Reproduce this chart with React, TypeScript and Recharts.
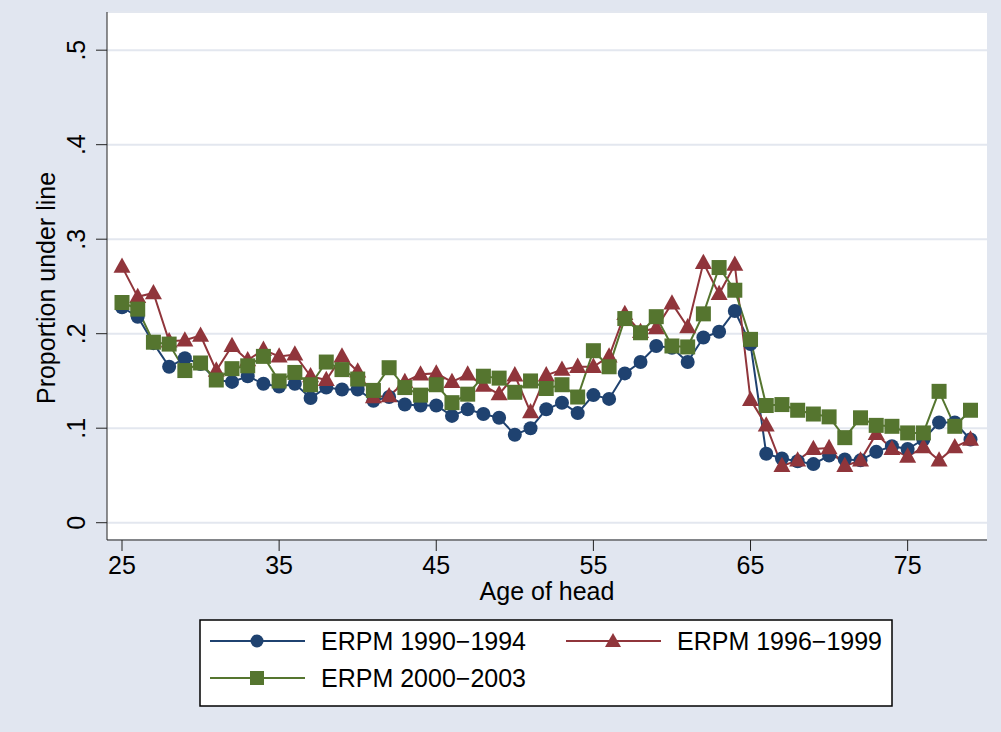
import { LineChart, Line, XAxis, YAxis, CartesianGrid, Legend } from 'recharts'

const ages = [
  25, 26, 27, 28, 29, 30, 31, 32, 33, 34, 35, 36, 37, 38, 39, 40, 41, 42, 43, 44, 45, 46, 47, 48, 49, 50, 51, 52,
  53, 54, 55, 56, 57, 58, 59, 60, 61, 62, 63, 64, 65, 66, 67, 68, 69, 70, 71, 72, 73, 74, 75, 76, 77, 78, 79,
]

const erpm9094 = [
  0.228, 0.218, 0.19, 0.165, 0.174, 0.168, 0.151, 0.149, 0.155, 0.147, 0.144, 0.147, 0.132, 0.143, 0.141, 0.141,
  0.129, 0.133, 0.125, 0.124, 0.124, 0.113, 0.12, 0.115, 0.111, 0.093, 0.1, 0.12, 0.127, 0.116, 0.135, 0.131,
  0.158, 0.17, 0.187, 0.185, 0.17, 0.196, 0.202, 0.224, 0.189, 0.073, 0.068, 0.065, 0.062, 0.071, 0.067, 0.066,
  0.075, 0.081, 0.078, 0.088, 0.106, 0.106, 0.088,
]

const erpm9699 = [
  0.271, 0.239, 0.243, 0.192, 0.193, 0.198, 0.161, 0.187, 0.172, 0.183, 0.176, 0.178, 0.155, 0.151, 0.176, 0.16,
  0.133, 0.134, 0.149, 0.157, 0.158, 0.149, 0.157, 0.145, 0.136, 0.156, 0.117, 0.156, 0.162, 0.165, 0.165, 0.176,
  0.221, 0.202, 0.206, 0.232, 0.207, 0.275, 0.242, 0.273, 0.13, 0.103, 0.06, 0.066, 0.078, 0.079, 0.06, 0.066,
  0.094, 0.078, 0.07, 0.08, 0.066, 0.08, 0.088,
]

const erpm0003 = [
  0.233, 0.226, 0.191, 0.189, 0.161, 0.169, 0.151, 0.163, 0.166, 0.176, 0.15, 0.159, 0.146, 0.17, 0.162, 0.152,
  0.14, 0.164, 0.143, 0.135, 0.146, 0.127, 0.136, 0.155, 0.153, 0.138, 0.15, 0.142, 0.146, 0.133, 0.182, 0.165,
  0.216, 0.201, 0.218, 0.187, 0.186, 0.221, 0.27, 0.246, 0.194, 0.124, 0.125, 0.119, 0.115, 0.112, 0.09, 0.111,
  0.103, 0.102, 0.095, 0.095, 0.139, 0.102, 0.119,
]

const xTicks = [25, 35, 45, 55, 65, 75]
const yTicks = [0, 0.1, 0.2, 0.3, 0.4, 0.5]

const seriesNames = ['ERPM 1990\u22121994', 'ERPM 1996\u22121999', 'ERPM 2000\u22122003']

const NAVY = '#1f4270'
const MAROON = '#90353b'
const GREEN = '#55752f'
const FONT = '"Liberation Sans", Arial, sans-serif'

const data = ages.map((age, i) => ({ age, s1: erpm9094[i], s2: erpm9699[i], s3: erpm0003[i] }))

const circle = (r: number, color: string) => (p: any) =>
  <circle key={p.index} cx={p.cx} cy={p.cy} r={r} fill={color} />

const triangle = (s: number, color: string) => (p: any) => {
  const h = s * 0.9
  return (
    <path
      key={p.index}
      d={`M${p.cx},${p.cy - h * 0.6} L${p.cx + s / 2},${p.cy + h * 0.4} L${p.cx - s / 2},${p.cy + h * 0.4} Z`}
      fill={color}
    />
  )
}

const square = (s: number, color: string) => (p: any) =>
  <rect key={p.index} x={p.cx - s / 2} y={p.cy - s / 2} width={s} height={s} fill={color} />

const XTick = ({ x, payload }: any) => (
  <text x={x} y={574} textAnchor="middle" fontSize={25} fontFamily={FONT} fill="#000">
    {payload.value}
  </text>
)

const YTick = ({ y, payload }: any) => {
  const v = payload.value
  const label = v === 0 ? '0' : '.' + Math.round(v * 10)
  return (
    <text x={85} y={y} transform={`rotate(-90, 85, ${y})`} textAnchor="middle" fontSize={25} fontFamily={FONT} fill="#000">
      {label}
    </text>
  )
}

const LegendItem = ({ x, y, color, marker, label }: any) => (
  <g>
    <line x1={x} y1={y} x2={x + 95} y2={y} stroke={color} strokeWidth={2} />
    {marker === 'circle' && <circle cx={x + 47} cy={y} r={6.5} fill={color} />}
    {marker === 'triangle' && <path d={`M${x + 47},${y - 8} L${x + 55},${y + 6} L${x + 39},${y + 6} Z`} fill={color} />}
    {marker === 'square' && <rect x={x + 40} y={y - 7} width={14} height={14} fill={color} />}
    <text x={x + 111} y={y + 9} fontSize={25} fontFamily={FONT} fill="#000">
      {label}
    </text>
  </g>
)

const LegendBox = () => (
  <svg width={694} height={88} style={{ display: 'block' }}>
    <rect x={1} y={1} width={692} height={86} fill="#fff" stroke="#000" strokeWidth={1.5} />
    <LegendItem x={11} y={22} color={NAVY} marker="circle" label={seriesNames[0]} />
    <LegendItem x={367} y={22} color={MAROON} marker="triangle" label={seriesNames[1]} />
    <LegendItem x={11} y={59} color={GREEN} marker="square" label={seriesNames[2]} />
  </svg>
)

export default function App() {
  return (
    <div style={{ position: 'absolute', left: 0, top: 0, width: 1001, height: 732, background: '#e1e6f0' }}>
      <LineChart width={1001} height={732} data={data} margin={{ top: 12, right: 14, left: 47, bottom: 132 }}>
        <CartesianGrid horizontal vertical={false} fill="#fff" stroke="#e3e7ef" strokeWidth={2} />
        <XAxis
          dataKey="age"
          type="number"
          domain={[24.045, 80.05]}
          ticks={xTicks}
          allowDataOverflow
          height={60}
          tickSize={11}
          stroke="#222"
          tick={<XTick />}
          label={{ value: 'Age of head', content: () => (
            <text x={547} y={600} textAnchor="middle" fontSize={25} fontFamily={FONT} fill="#000">Age of head</text>
          ) }}
        />
        <YAxis
          type="number"
          domain={[-0.0183, 0.5404]}
          ticks={yTicks}
          allowDataOverflow
          width={60}
          tickSize={11}
          stroke="#222"
          tick={<YTick />}
          label={{ value: 'Proportion under line', content: () => (
            <text x={55} y={288} transform="rotate(-90, 55, 288)" textAnchor="middle" fontSize={25} fontFamily={FONT} fill="#000">
              Proportion under line
            </text>
          ) }}
        />
        <Legend
          layout="horizontal"
          verticalAlign="middle"
          align="center"
          content={() => <LegendBox />}
          wrapperStyle={{ position: 'absolute', left: 199, top: 619, width: 694, height: 88 }}
        />
        <Line type="linear" dataKey="s1" stroke={NAVY} strokeWidth={2} dot={circle(7, NAVY)} activeDot={false} isAnimationActive={false} />
        <Line type="linear" dataKey="s2" stroke={MAROON} strokeWidth={2} dot={triangle(17, MAROON)} activeDot={false} isAnimationActive={false} />
        <Line type="linear" dataKey="s3" stroke={GREEN} strokeWidth={2} dot={square(15, GREEN)} activeDot={false} isAnimationActive={false} />
      </LineChart>
    </div>
  )
}
